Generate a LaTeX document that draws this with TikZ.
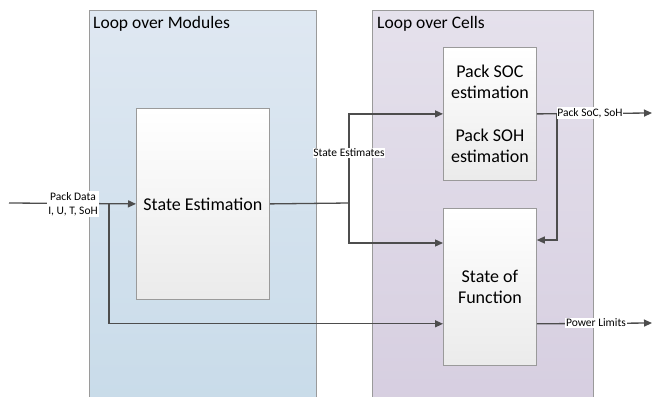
\documentclass[tikz,border=0pt]{standalone}
\usepackage{fontspec}
\setmainfont{Carlito}
\usepackage{tikz}
\usetikzlibrary{calc}
\usetikzlibrary{arrows.meta}

\definecolor{modtop}{HTML}{DFE8F2}
\definecolor{modbot}{HTML}{C8DBE9}
\definecolor{celltop}{HTML}{E5E1EC}
\definecolor{cellbot}{HTML}{D6CEE0}
\definecolor{frame}{HTML}{9A9A9A}
\definecolor{wire}{HTML}{4D4D4D}

\begin{document}
\begin{tikzpicture}[x=1pt,y=-1pt,
    panel/.style={draw=frame, line width=0.8pt, anchor=north west, inner sep=0pt},
    block/.style={draw=frame, line width=0.8pt, top color=white, bottom color=black!8, anchor=north west, inner sep=0pt, align=center, font=\fontsize{18}{21}\selectfont},
    title/.style={anchor=west, inner sep=0pt, font=\fontsize{17.5}{21}\selectfont},
    lbl/.style={fill=white, inner sep=0.8pt, align=center, font=\fontsize{11.5}{14}\selectfont},
    conn/.style={draw=wire, line width=1.3pt},
    arr/.style={conn, -{Triangle[length=8pt,width=7pt]}}]
    \clip (0,0) rectangle (652,396);
    % Schleifen
    \node[panel, top color=modtop, bottom color=modbot, minimum width=227pt, minimum height=400pt] (modules) at (89,10) {};
    \node[panel, top color=celltop, bottom color=cellbot, minimum width=221pt, minimum height=400pt] (cells) at (372,10) {};
    \node[title] (modtitle) at (93,24) {Loop over Modules};
    \node[title] (celltitle) at (377,24) {Loop over Cells};
    % Bloecke
    \node[block, minimum width=133pt, minimum height=191pt] (est) at (136,108) {State Estimation};
    \node[block, minimum width=93pt, minimum height=133pt] (soc) at (443,47) {Pack SOC\\estimation\\[22pt]Pack SOH\\estimation};
    \node[block, minimum width=93pt, minimum height=157pt] (sof) at (443,208) {State of\\Function};
    % Verbindungen
    \coordinate (in) at (9,203);
    \coordinate (split) at (109,203);
    \coordinate (fork) at (349,203);
    \coordinate (back) at (557,113);
    \coordinate (socout) at (652,113);
    \coordinate (powout) at (652,323);
    \draw[arr] (in) -- (est.west);
    \draw[arr] (split) |- ([yshift=42pt]sof.south west);
    \draw[conn] (est.east) -- (fork);
    \draw[arr] (fork) |- (soc.west);
    \draw[arr] (fork) |- ([yshift=-35pt]sof.north west);
    \draw[arr] (soc.east) -- (socout);
    \draw[arr] (back) |- ([yshift=-32pt]sof.north east);
    \draw[arr] ([yshift=42pt]sof.south east) -- (powout);
    % Labels
    \node[lbl] (packdata) at (73,204) {Pack Data\\I, U, T, SoH};
    \node[lbl] (estimates) at (349,153) {State Estimates};
    \node[lbl] (socsoh) at (590,113) {Pack SoC, SoH};
    \node[lbl] (power) at (596,323) {Power Limits};
\end{tikzpicture}
\end{document}
